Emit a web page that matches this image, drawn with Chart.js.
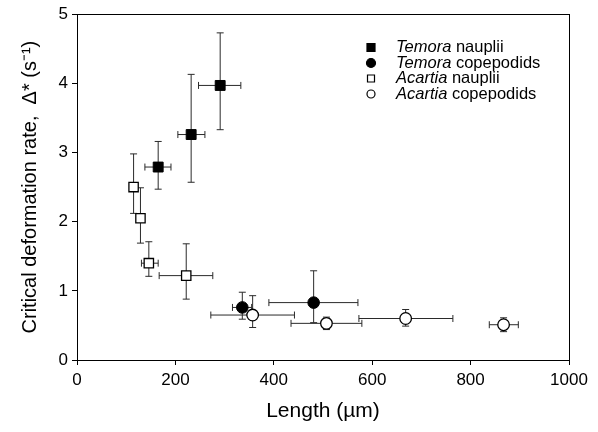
<!DOCTYPE html>
<html><head><meta charset="utf-8">
<script src="https://cdn.jsdelivr.net/npm/chart.js@4/dist/chart.umd.min.js"></script>
<style>html,body{margin:0;padding:0;background:#fff}#wrap{width:598px;height:432px}</style>
</head><body><div id="wrap"><canvas id="c" width="598" height="432"></canvas></div>
<script>
// ---- data ----
const xTicks = [0, 200, 400, 600, 800, 1000];
const yTicks = [0, 1, 2, 3, 4, 5];

const seriesNames = [['Temora', ' nauplii'], ['Temora', ' copepodids'], ['Acartia', ' nauplii'], ['Acartia', ' copepodids']];

// Temora nauplii
const temNaupX   = [165, 232, 291];
const temNaupXLo = [138, 205, 247];
const temNaupXHi = [191, 260, 333];
const temNaupY   = [2.79, 3.26, 3.97];
const temNaupYLo = [2.47, 2.57, 3.33];
const temNaupYHi = [3.16, 4.13, 4.73];

// Temora copepodids
const temCopX   = [336, 481];
const temCopXLo = [316, 390];
const temCopXHi = [355, 571];
const temCopY   = [0.76, 0.83];
const temCopYLo = [0.59, 0.54];
const temCopYHi = [0.98, 1.29];

// Acartia nauplii
const acaNaupX   = [115, 129, 146, 222];
const acaNaupXLo = [110, 124, 131, 167];
const acaNaupXHi = [120, 134, 165, 276];
const acaNaupY   = [2.50, 2.05, 1.40, 1.22];
const acaNaupYLo = [2.12, 1.69, 1.21, 0.88];
const acaNaupYHi = [2.98, 2.49, 1.71, 1.68];

// Acartia copepodids
const acaCopX   = [357, 507, 668, 867];
const acaCopXLo = [272, 435, 573, 838];
const acaCopXHi = [442, 579, 764, 897];
const acaCopY   = [0.65, 0.53, 0.60, 0.51];
const acaCopYLo = [0.47, 0.44, 0.49, 0.41];
const acaCopYHi = [0.93, 0.62, 0.73, 0.61];

function pts(x, xl, xh, y, yl, yh) {
  return x.map((v, i) => ({x: v, y: y[i], xMin: xl[i], xMax: xh[i], yMin: yl[i], yMax: yh[i]}));
}

const FONT = "'Liberation Sans', Arial, Helvetica, sans-serif";

const errorBars = {
  id: 'errorBars',
  beforeDatasetsDraw(chart) {
    const ctx = chart.ctx;
    const xs = chart.scales.x, ys = chart.scales.y;
    const cap = 3.5;
    ctx.save();
    ctx.strokeStyle = '#2a2a2a';
    ctx.lineWidth = 1;
    chart.data.datasets.forEach(ds => {
      ds.data.forEach(p => {
        const px = xs.getPixelForValue(p.x), py = ys.getPixelForValue(p.y);
        const x1 = xs.getPixelForValue(p.xMin), x2 = xs.getPixelForValue(p.xMax);
        const y1 = ys.getPixelForValue(p.yMin), y2 = ys.getPixelForValue(p.yMax);
        ctx.beginPath();
        ctx.moveTo(px, y1); ctx.lineTo(px, y2);
        ctx.moveTo(px - cap, y1); ctx.lineTo(px + cap, y1);
        ctx.moveTo(px - cap, y2); ctx.lineTo(px + cap, y2);
        ctx.moveTo(x1, py); ctx.lineTo(x2, py);
        ctx.moveTo(x1, py - cap); ctx.lineTo(x1, py + cap);
        ctx.moveTo(x2, py - cap); ctx.lineTo(x2, py + cap);
        ctx.stroke();
      });
    });
    ctx.restore();
  },
  afterDraw(chart) {
    const ctx = chart.ctx, a = chart.chartArea;
    ctx.save();
    ctx.strokeStyle = '#000';
    ctx.lineWidth = 1;
    ctx.strokeRect(Math.round(a.left) + 0.5, Math.round(a.top) + 0.5, Math.round(a.right - a.left), Math.round(a.bottom - a.top));
    // legend
    const mx = 371, tx = 396, rows = [47.5, 63, 78.5, 94];
    chart.data.datasets.forEach((ds, i) => {
      const y = rows[i];
      ctx.lineWidth = 1.2;
      ctx.strokeStyle = '#000';
      ctx.fillStyle = ds.backgroundColor;
      ctx.beginPath();
      if (ds.pointStyle === 'rect') {
        const s = ds.backgroundColor === '#000' ? 8 : 7;
        ctx.rect(mx - s / 2, y - s / 2, s, s);
      } else {
        ctx.arc(mx, y, ds.backgroundColor === '#000' ? 4.5 : 4, 0, Math.PI * 2);
      }
      ctx.fill(); ctx.stroke();
      ctx.fillStyle = '#000';
      ctx.textBaseline = 'middle';
      ctx.textAlign = 'left';
      ctx.font = 'italic 16.5px ' + FONT;
      const g = seriesNames[i][0];
      ctx.fillText(g, tx, y);
      const w = ctx.measureText(g).width;
      ctx.font = '16.5px ' + FONT;
      ctx.fillText(seriesNames[i][1], tx + w, y);
    });
    ctx.restore();
  }
};

const tickFont = {family: FONT, size: 17};
const titleFont = {family: FONT, size: 20};

new Chart(document.getElementById('c'), {
  type: 'scatter',
  data: {
    datasets: [
      {label: 'Temora nauplii', data: pts(temNaupX, temNaupXLo, temNaupXHi, temNaupY, temNaupYLo, temNaupYHi),
       pointStyle: 'rect', pointRadius: 7, backgroundColor: '#000', borderColor: '#000', borderWidth: 1},
      {label: 'Temora copepodids', data: pts(temCopX, temCopXLo, temCopXHi, temCopY, temCopYLo, temCopYHi),
       pointStyle: 'circle', pointRadius: 5.8, backgroundColor: '#000', borderColor: '#000', borderWidth: 1},
      {label: 'Acartia nauplii', data: pts(acaNaupX, acaNaupXLo, acaNaupXHi, acaNaupY, acaNaupYLo, acaNaupYHi),
       pointStyle: 'rect', pointRadius: 6.6, backgroundColor: '#fff', borderColor: '#000', borderWidth: 1.3},
      {label: 'Acartia copepodids', data: pts(acaCopX, acaCopXLo, acaCopXHi, acaCopY, acaCopYLo, acaCopYHi),
       pointStyle: 'circle', pointRadius: 5.8, backgroundColor: '#fff', borderColor: '#000', borderWidth: 1.3}
    ]
  },
  options: {
    responsive: false,
    animation: false,
    devicePixelRatio: 1,
    layout: {padding: {left: 0, top: 12, right: 29, bottom: 0}},
    plugins: {legend: {display: false}, tooltip: {enabled: false}},
    scales: {
      x: {
        type: 'linear', min: 0, max: 1000,
        afterBuildTicks: s => { s.ticks = xTicks.map(v => ({value: v})); },
        afterFit: s => { s.height = 72; },
        ticks: {font: tickFont, color: '#000', padding: 5, maxRotation: 0, callback: v => String(v)},
        grid: {drawOnChartArea: false, drawTicks: true, tickLength: 5, color: '#000'},
        border: {color: '#000', width: 1},
        title: {display: true, text: 'Length (µm)', font: {family: FONT, size: 21}, color: '#000', padding: {top: 2, bottom: 8}}
      },
      y: {
        type: 'linear', min: 0, max: 5,
        afterBuildTicks: s => { s.ticks = yTicks.map(v => ({value: v})); },
        afterFit: s => { s.width = 77; },
        ticks: {font: tickFont, color: '#000', padding: 4, callback: v => String(v)},
        grid: {drawOnChartArea: false, drawTicks: true, tickLength: 5, color: '#000'},
        border: {color: '#000', width: 1},
        title: {display: true, text: 'Critical deformation rate,  Δ* (s⁻¹)', font: titleFont, color: '#000', padding: {top: 18, bottom: 0}}
      }
    }
  },
  plugins: [errorBars]
});
</script>
</body></html>
